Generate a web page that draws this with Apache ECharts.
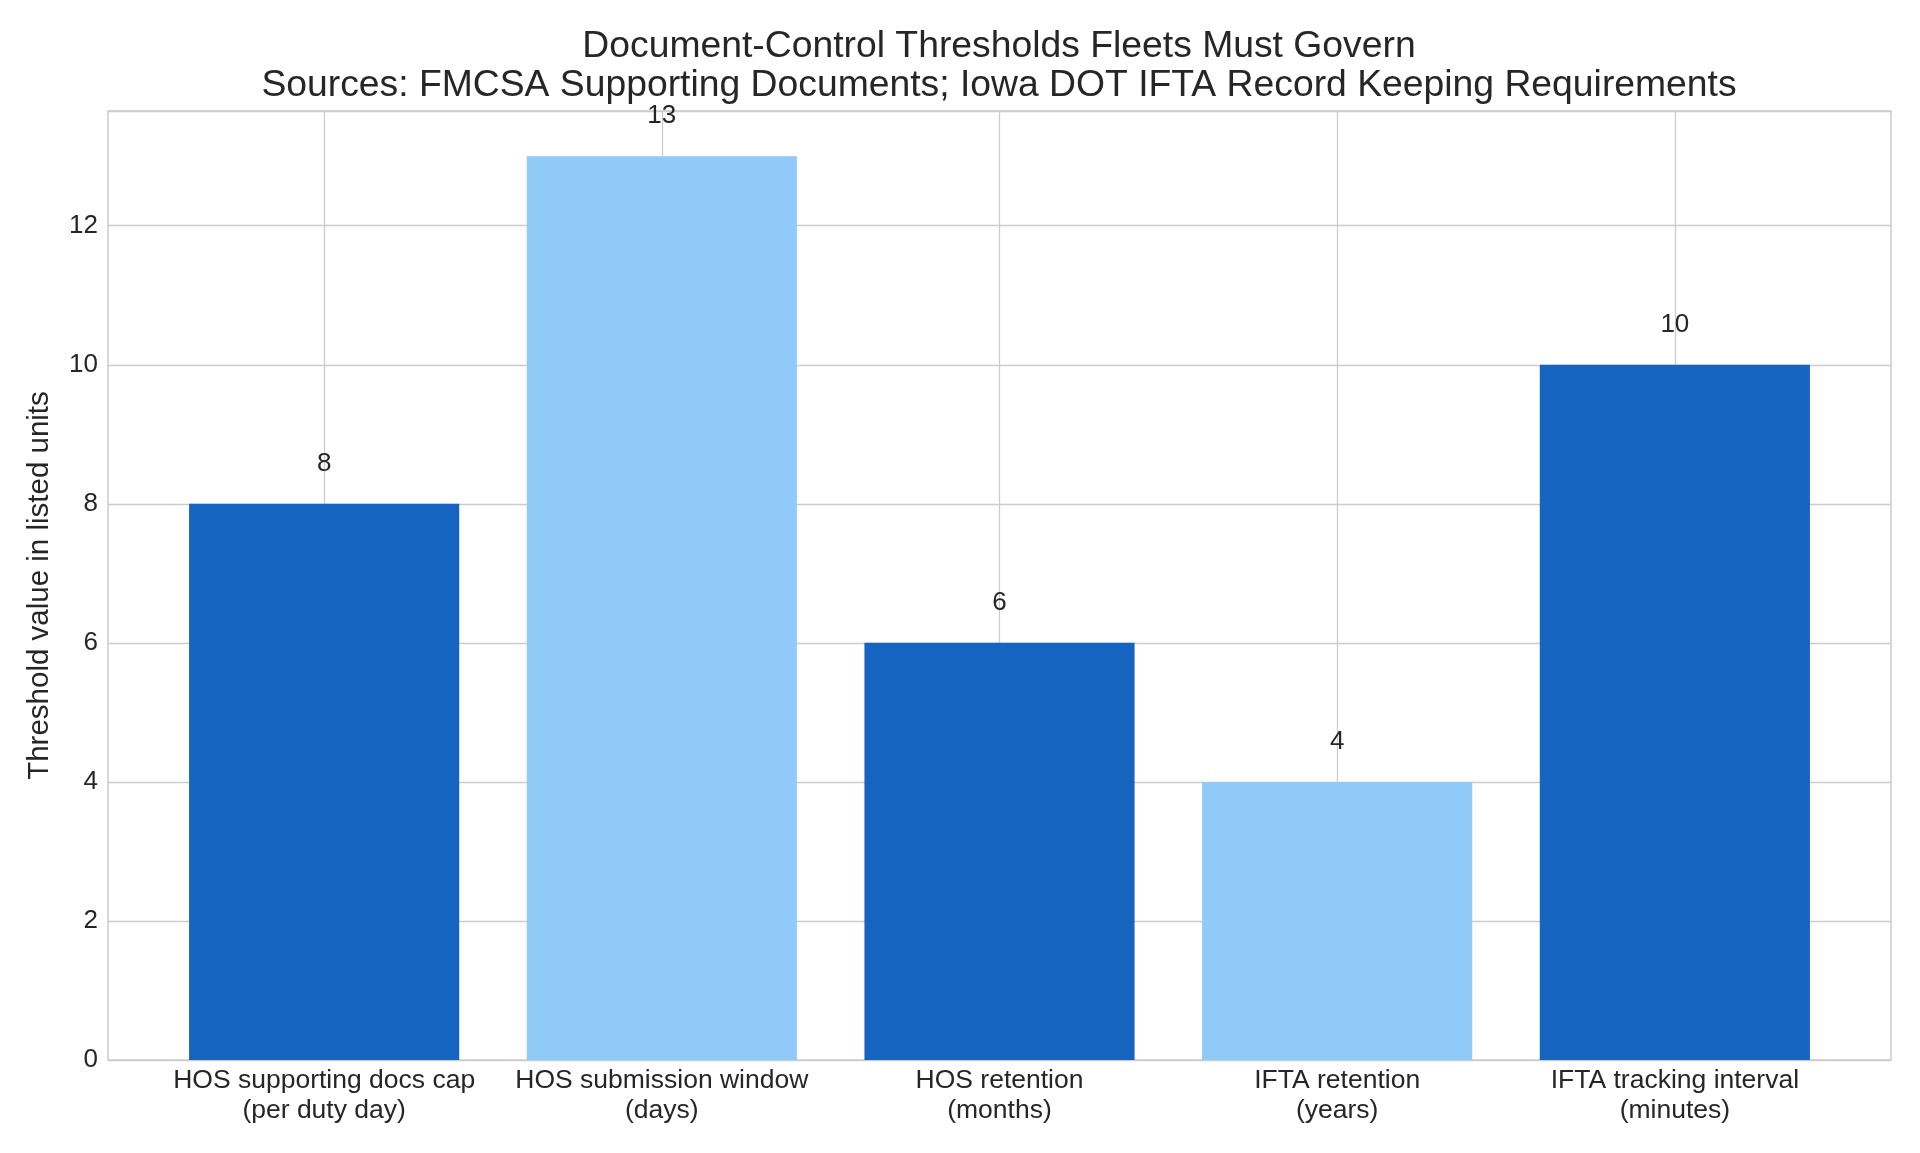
<!DOCTYPE html>
<html>
<head>
<meta charset="utf-8">
<script src="https://cdn.jsdelivr.net/npm/echarts@6/dist/echarts.min.js"></script>
<style>
html,body{margin:0;padding:0;background:#fff;}
#chart{width:1920px;height:1153px;}
</style>
</head>
<body>
<div id="chart"></div>
<script>
const titleLines = ['Document-Control Thresholds Fleets Must Govern', 'Sources: FMCSA Supporting Documents; Iowa DOT IFTA Record Keeping Requirements'];
const categories = ['HOS supporting docs cap\n(per duty day)', 'HOS submission window\n(days)', 'HOS retention\n(months)', 'IFTA retention\n(years)', 'IFTA tracking interval\n(minutes)'];
const values = [8, 13, 6, 4, 10];
const barColors = ['#1565C0', '#90CAF9', '#1565C0', '#90CAF9', '#1565C0'];
const yAxisName = 'Threshold value in listed units';
const yMax = 13.65;

const FONT = '"Liberation Sans", Arial, sans-serif';
const TEXT = '#262626';
const GRIDC = '#cccccc';

const chart = echarts.init(document.getElementById('chart'), null, {renderer: 'canvas'});
chart.setOption({
  backgroundColor: '#ffffff',
  animation: false,
  textStyle: {fontFamily: FONT},
  title: {
    text: titleLines.join('\n'),
    left: 994,
    textAlign: 'center',
    top: 22,
    textStyle: {fontFamily: FONT, fontSize: 37.3, fontWeight: 'normal', color: TEXT, lineHeight: 39}
  },
  grid: [
    {left: 108, right: 29, top: 111, bottom: 93, show: true, borderColor: GRIDC, borderWidth: 1.5, backgroundColor: 'transparent'},
    {left: 155.3, right: 76.3, top: 111, bottom: 93}
  ],
  xAxis: [
    {type: 'value', gridIndex: 0, show: false, min: 0, max: 1},
    {
      type: 'category', gridIndex: 1, data: categories,
      axisLine: {show: false}, axisTick: {show: false},
      axisLabel: {fontFamily: FONT, fontSize: 26.5, color: TEXT, margin: 6, lineHeight: 30, interval: 0},
      splitLine: {show: true, alignWithLabel: true, lineStyle: {color: GRIDC, width: 1.3}}
    }
  ],
  yAxis: [
    {
      type: 'value', gridIndex: 0, min: 0, max: yMax, interval: 2,
      name: yAxisName, nameLocation: 'middle', nameGap: 53, nameRotate: 90,
      nameTextStyle: {fontFamily: FONT, fontSize: 29.5, color: TEXT},
      axisLine: {show: false}, axisTick: {show: false},
      axisLabel: {fontFamily: FONT, fontSize: 26, color: TEXT, margin: 10, showMaxLabel: false},
      splitLine: {show: true, lineStyle: {color: GRIDC, width: 1.3}}
    },
    {type: 'value', gridIndex: 1, min: 0, max: yMax, show: false, splitLine: {show: false}}
  ],
  series: [{
    type: 'bar',
    xAxisIndex: 1, yAxisIndex: 1,
    barWidth: '80%',
    data: values.map((v, i) => ({value: v, itemStyle: {color: barColors[i]}})),
    label: {show: true, position: 'top', distance: 27, fontFamily: FONT, fontSize: 26, color: TEXT}
  }]
});
</script>
</body>
</html>
